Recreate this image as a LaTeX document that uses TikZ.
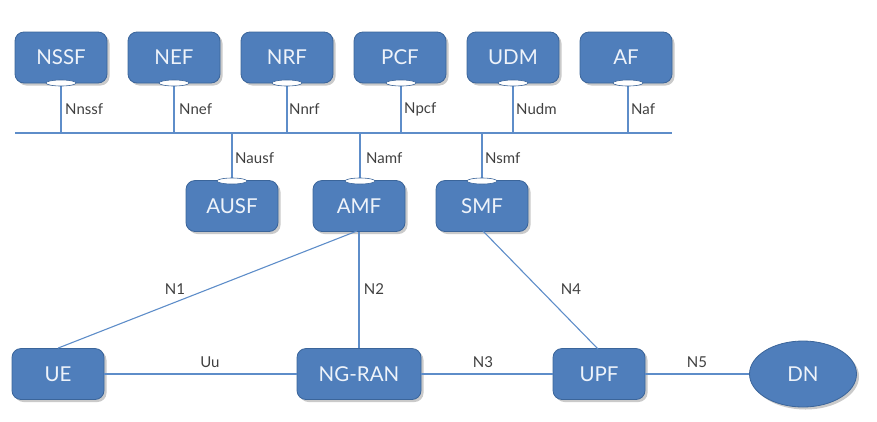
\documentclass[tikz,border=0pt]{standalone}
\usepackage{fontspec}
\setmainfont{Lato}
\usetikzlibrary{shapes.geometric,shadows}
\definecolor{boxfill}{HTML}{4F7EBB}
\definecolor{boxedge}{HTML}{3B659A}
\definecolor{linecol}{HTML}{5E8DC9}
\definecolor{labcol}{HTML}{404040}
\definecolor{boxtext}{HTML}{EEF3FA}
\tikzset{
  nf/.style={draw=boxedge, line width=0.8pt, fill=boxfill, rounded corners=9pt,
    minimum width=92pt, minimum height=51pt, inner sep=0pt,
    text=boxtext, font=\fontsize{20.5}{20.5}\selectfont,
    drop shadow={shadow xshift=2.5pt, shadow yshift=-2.5pt, opacity=0.35, fill=black!60}},
  dnstyle/.style={ellipse, draw=boxedge, line width=0.8pt, fill=boxfill,
    minimum width=107pt, minimum height=66pt, inner sep=0pt,
    text=boxtext, font=\fontsize{20.5}{20.5}\selectfont,
    drop shadow={shadow xshift=2.5pt, shadow yshift=-2.5pt, opacity=0.35, fill=black!60}},
  port/.style={ellipse, draw=boxedge, line width=0.6pt, fill=white,
    minimum width=30pt, minimum height=6pt, inner sep=0pt},
  link/.style={draw=linecol, line width=1.1pt},
  lab/.style={text=labcol, font=\fontsize{15}{15}\selectfont, inner sep=0pt},
}
\begin{document}
\begin{tikzpicture}[x=1pt,y=-1pt]
\useasboundingbox (0,0) rectangle (877,421);
% top row
\node[nf] (nssf) at (61,57.5) {NSSF};
\node[nf] (nef) at (174,57.5) {NEF};
\node[nf] (nrf) at (287,57.5) {NRF};
\node[nf] (pcf) at (400,57.5) {PCF};
\node[nf] (udm) at (513,57.5) {UDM};
\node[nf] (af) at (626,57.5) {AF};
% second row
\node[nf] (ausf) at (232,206) {AUSF};
\node[nf] (amf) at (359,206) {AMF};
\node[nf] (smf) at (482,206) {SMF};
% bottom row
\node[nf] (ue) at (58,374) {UE};
\node[nf, minimum width=124pt] (ngran) at (359,374) {NG-RAN};
\node[nf] (upf) at (599,374) {UPF};
\node[dnstyle] (dn) at (803,374) {DN};
% bus
\coordinate (busL) at (15,133);
\coordinate (busR) at (672,133);
\draw[link] (busL) -- (busR);
% links top row
\foreach \n/\x in {nssf/61,nef/174,nrf/287,pcf/401,udm/513,af/628}{
  \draw[link] (\x,83) -- (\x,133);
  \node[port] (\n-p) at (\x,83) {};
}
\foreach \n/\x in {ausf/232,amf/360,smf/482}{
  \draw[link] (\x,133) -- (\x,181);
  \node[port] (\n-p) at (\x,181) {};
}
% labels
\node[lab, anchor=west] (l1) at (65,109) {Nnssf};
\node[lab, anchor=west] (l2) at (179,109) {Nnef};
\node[lab, anchor=west] (l3) at (289,109) {Nnrf};
\node[lab, anchor=west] (l4) at (404,109) {Npcf};
\node[lab, anchor=west] (l5) at (516,109) {Nudm};
\node[lab, anchor=west] (l6) at (631,109) {Naf};
\node[lab, anchor=west] (l7) at (235,158) {Nausf};
\node[lab, anchor=west] (l8) at (366,158) {Namf};
\node[lab, anchor=west] (l9) at (485,158) {Nsmf};
% lower links
\draw[link] (ue.east) -- (ngran.west);
\draw[link] (ngran.east) -- (upf.west);
\draw[link] (upf.east) -- (dn.west);
\draw[link] (amf.south) -- (ngran.north);
\draw[link] (ue.north) -- (357,231);
\draw[link] (483,231) -- (598,349);
\node[lab] (uu) at (210,362) {Uu};
\node[lab] (n3) at (483,362) {N3};
\node[lab] (n5) at (697,362) {N5};
\node[lab] (n1) at (175,289) {N1};
\node[lab] (n2) at (374,289) {N2};
\node[lab] (n4) at (571,289) {N4};
\end{tikzpicture}
\end{document}
